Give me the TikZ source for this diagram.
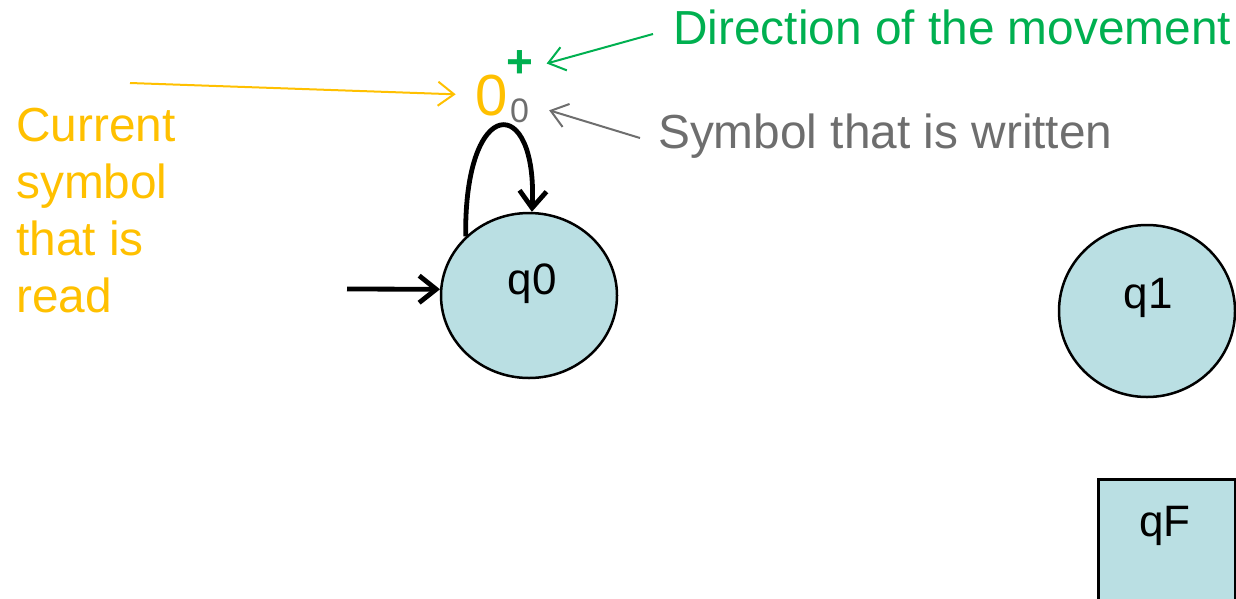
\documentclass[tikz,border=0pt]{standalone}
\usepackage{fontspec}
\setmainfont{Liberation Sans}
\usetikzlibrary{arrows.meta,shapes.geometric}
\definecolor{stfill}{RGB}{186,223,227}
\definecolor{ygold}{RGB}{255,192,0}
\definecolor{mgreen}{RGB}{0,176,80}
\definecolor{mgray}{RGB}{110,110,110}
\tikzset{
  state/.style={ellipse,draw=black,line width=2.5pt,fill=stfill,inner sep=0pt,minimum width=176pt},
  finalbox/.style={rectangle,draw=black,line width=2.5pt,fill=stfill,inner sep=0pt},
  lbl/.style={inner sep=0pt,font=\fontsize{44}{50}\selectfont},
  note/.style={inner sep=0pt,anchor=base west,font=\fontsize{47.8}{57}\selectfont},
  thickarr/.style={line width=4.8pt,-{Straight Barb[length=17pt,width=27pt]}},
  thinarr/.style={line width=2pt,-{Straight Barb[length=16pt,width=24pt]}},
}
\begin{document}
\begin{tikzpicture}[x=1pt,y=-1pt]
\useasboundingbox (0,0) rectangle (1236,598);
% states
\node[state,minimum height=165pt] (q0) at (529,295.5) {};
\node[lbl,anchor=base] (q0t) at (532,294) {q0};
\node[state,minimum width=176pt,minimum height=172pt] (q1) at (1147,311) {};
\node[lbl,anchor=base] (q1t) at (1148,308) {q1};
\node[finalbox,minimum width=137pt,minimum height=150pt,anchor=north west] (qF) at (1097,478) {};
\node[lbl,anchor=base] (qFt) at (1165,536) {qF};
% transition symbols
\node[inner sep=0pt,anchor=base,text=ygold,font=\fontsize{58}{60}\selectfont] (rd) at (492,115) {0};
\node[inner sep=0pt,anchor=base,text=mgray,font=\fontsize{34}{36}\selectfont] (wr) at (519.5,122) {0};
\node[inner sep=0pt,anchor=base,text=mgreen,font=\bfseries\fontsize{46}{48}\selectfont] (mv) at (520,77) {+};
% annotations
\node[note,text=mgreen] (dirt) at (673,44) {Direction of the movement};
\node[note,text=mgray] (symt) at (658,148) {Symbol that is written};
\node[note,text=ygold,align=left] (curt) at (16,312) {Current\\symbol\\that is\\read};
% free ends
\coordinate (ya) at (130,83);
\coordinate (ga) at (653,34);
\coordinate (gra) at (640,138);
\coordinate (ia) at (347,289);
% connectors
\draw[thickarr] (ia) -- (q0.176);
\draw[thickarr] (q0.137) .. controls (464,93) and (538,93) .. (q0.88);
\draw[thinarr,ygold,shorten >=20pt] (ya) -- (rd.west);
\draw[thinarr,mgreen] (ga) -- ([xshift=13pt]mv.east);
\draw[thinarr,mgray] (gra) -- ([xshift=20pt]wr.east);
\end{tikzpicture}
\end{document}
